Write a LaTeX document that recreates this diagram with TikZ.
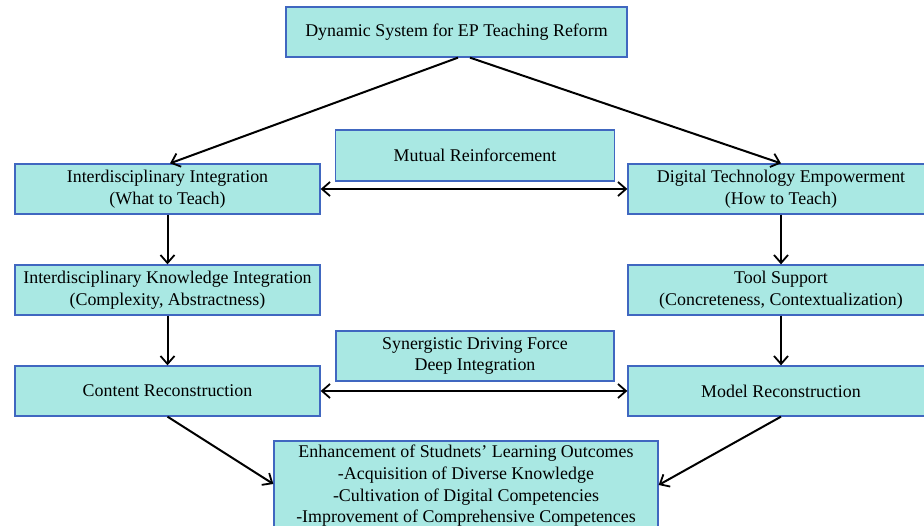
\documentclass[tikz,border=0pt]{standalone}
\usepackage{fontspec}
\setmainfont{Liberation Serif}
\usetikzlibrary{arrows.meta}

\definecolor{boxfill}{HTML}{A9E8E3}
\definecolor{boxline}{HTML}{4067C0}

\begin{document}
\begin{tikzpicture}[x=1pt, y=-1pt,
    box/.style={draw=boxline, line width=1.3pt, fill=boxfill, align=center,
        inner sep=0pt, minimum height=50pt,
        font=\fontsize{17.9}{21.7}\selectfont},
    arr/.style={line width=2pt, -{Straight Barb[length=8pt,width=14pt,line width=1.8pt]}},
    darr/.style={line width=2pt, {Straight Barb[length=8pt,width=14pt,line width=1.8pt]}-{Straight Barb[length=8pt,width=14pt,line width=1.8pt]}}]
    \useasboundingbox (0,0) rectangle (924,526);

    % top
    \node[box, minimum width=341pt] (sys) at (456.5, 32) {Dynamic System for EP Teaching Reform};

    % left column
    \node[box, minimum width=305pt] (ii) at (167.5, 189) {Interdisciplinary Integration\\(What to Teach)};
    \node[box, minimum width=305pt] (kn) at (167.5, 290) {Interdisciplinary Knowledge Integration\\(Complexity, Abstractness)};
    \node[box, minimum width=305pt] (cr) at (167.5, 391) {Content Reconstruction};

    % right column
    \node[box, minimum width=306pt] (dt) at (781, 189) {Digital Technology Empowerment\\(How to Teach)};
    \node[box, minimum width=306pt] (ts) at (781, 290) {Tool Support\\(Concreteness, Contextualization)};
    \node[box, minimum width=306pt] (mr) at (781, 391) {Model Reconstruction};

    % middle labels
    \node[box, minimum width=279pt, minimum height=51pt] (mut) at (475, 155.5) {Mutual Reinforcement};
    \node[box, minimum width=278pt] (syn) at (475, 356) {Synergistic Driving Force\\Deep Integration};

    % outcome
    \node[box, minimum width=384pt, minimum height=90pt] (out) at (466, 486)
        {Enhancement of Studnets’ Learning Outcomes\\-Acquisition of Diverse Knowledge\\-Cultivation of Digital Competencies\\-Improvement of Comprehensive Competences};

    \draw[arr] ([xshift=1.5pt]sys.south) -- ([xshift=2.5pt]ii.north);
    \draw[arr] ([xshift=13.5pt]sys.south) -- (dt.north);
    \draw[darr] (ii.east) -- (dt.west);
    \draw[arr] (ii) -- (kn);
    \draw[arr] (kn) -- (cr);
    \draw[arr] (dt) -- (ts);
    \draw[arr] (ts) -- (mr);
    \draw[darr] (cr.east) -- (mr.west);
    \draw[arr] (cr.south) -- ([yshift=2pt]out.west);
    \draw[arr] (mr.south) -- ([yshift=1pt]out.east);
\end{tikzpicture}
\end{document}
